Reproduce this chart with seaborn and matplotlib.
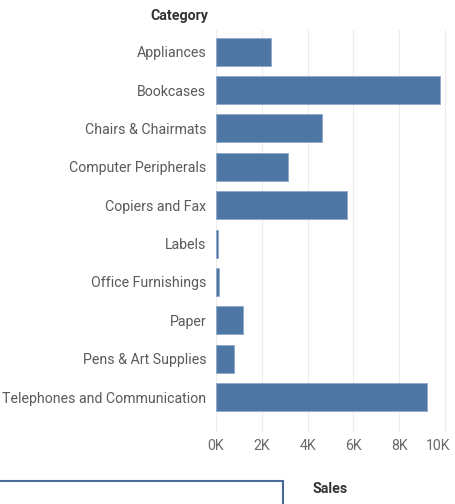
import matplotlib
matplotlib.use("Agg")
import matplotlib.pyplot as plt
import matplotlib.transforms as mtransforms
import seaborn as sns
import pandas as pd
from matplotlib.patches import Rectangle

# Data
categories = ["Appliances", "Bookcases", "Chairs & Chairmats", "Computer Peripherals",
              "Copiers and Fax", "Labels", "Office Furnishings", "Paper",
              "Pens & Art Supplies", "Telephones and Communication"]
sales = [2400, 9800, 4650, 3150, 5720, 80, 120, 1180, 800, 9200]
tick_values = [0, 2000, 4000, 6000, 8000, 10000]
tick_labels = ["0K", "2K", "4K", "6K", "8K", "10K"]

df = pd.DataFrame({"Category": categories, "Sales": sales})

sns.set_style("white")
plt.rcParams["font.family"] = ["Roboto", "DejaVu Sans"]

W, H = 455, 504
fig = plt.figure(figsize=(W / 100, H / 100), dpi=100)
left, right, top, bottom = 216, 448.4, 30, 432
ax = fig.add_axes([left / W, 1 - bottom / H, (right - left) / W, (bottom - top) / H])

sns.barplot(data=df, x="Sales", y="Category", color="#4e77a5", width=0.73,
            saturation=1, ax=ax, zorder=3, edgecolor="#8fa9c8", linewidth=0.6)

ax.set_xlim(0, 10150)
ax.set_ylim(9.91, -0.565)
ax.set_xticks(tick_values)
ax.set_xticklabels(tick_labels)
ax.grid(axis="x", color="#ececec", linewidth=0.8, zorder=0)
ax.grid(axis="y", visible=False)
for s in ax.spines.values():
    s.set_visible(False)
ax.tick_params(axis="x", length=0, pad=5, labelsize=10.2, labelcolor="#6a6a6a")
ax.tick_params(axis="y", length=0, pad=7, labelsize=10.2, labelcolor="#5a5a5a")
ax.set_xlabel("")
ax.set_ylabel("")

# last tick label pulled inside the figure, as in the reference
last = ax.get_xticklabels()[-1]
last.set_horizontalalignment("right")
last.set_transform(last.get_transform() + mtransforms.ScaledTranslation(5 / 100, 0, fig.dpi_scale_trans))

fig.text(208 / W, 1 - 16 / H, "Category", ha="right", va="center",
         fontsize=10.2, fontweight="bold", color="#333333")
fig.text(330 / W, 1 - 489 / H, "Sales", ha="center", va="center",
         fontsize=10.2, fontweight="bold", color="#333333")

# partially visible box at the bottom
fig.patches.append(Rectangle((-2 / W, 1 - 530 / H), 285 / W, 49 / H,
                             transform=fig.transFigure, fill=False,
                             edgecolor="#4a6a9a", linewidth=1.5))

fig.savefig("out.png", dpi=100)
